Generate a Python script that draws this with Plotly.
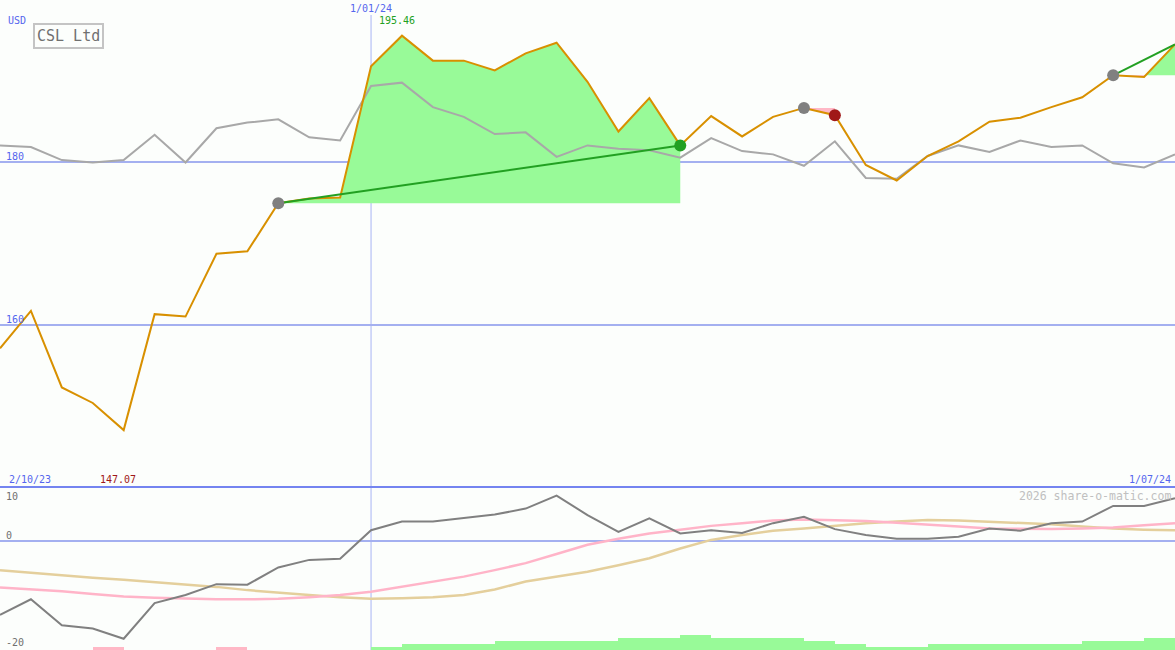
import plotly.graph_objects as go

# ---------------- data ----------------
n_points = 39
idx = list(range(n_points))
price = [157.1, 161.7, 152.3, 150.4, 147.07, 161.3, 161.0, 168.7, 169.0, 174.9,
         175.5, 175.6, 191.7, 195.46, 192.4, 192.4, 191.2, 193.3, 194.6, 189.8,
         183.7, 187.8, 182.0, 185.6, 183.1, 185.5, 186.6, 185.7, 179.6, 177.7,
         180.7, 182.5, 184.9, 185.4, 186.7, 187.9, 190.6, 190.4, 194.4]
index_line = [182.0, 181.8, 180.2, 179.9, 180.2, 183.3, 179.9, 184.1, 184.8, 185.2,
              183.0, 182.6, 189.3, 189.7, 186.7, 185.5, 183.4, 183.6, 180.6, 182.0,
              181.6, 181.4, 180.5, 182.9, 181.3, 180.9, 179.5, 182.5, 178.0, 177.9,
              180.7, 182.0, 181.2, 182.6, 181.8, 182.0, 179.8, 179.3, 180.9]
momentum = [-13.7, -10.8, -15.6, -16.2, -18.1, -11.5, -10.0, -8.0, -8.1, -4.9,
            -3.5, -3.3, 2.0, 3.6, 3.6, 4.2, 4.9, 6.0, 8.4, 4.8,
            1.7, 4.2, 1.4, 2.0, 1.5, 3.3, 4.5, 2.2, 1.1, 0.4,
            0.4, 0.8, 2.3, 1.9, 3.3, 3.6, 6.5, 6.5, 7.9]
ma_fast = [-8.6, -8.9, -9.3, -9.8, -10.3, -10.5, -10.7, -10.8, -10.8, -10.7,
           -10.4, -10.0, -9.4, -8.5, -7.6, -6.6, -5.4, -4.1, -2.4, -0.7,
           0.4, 1.4, 2.1, 2.8, 3.3, 3.8, 4.0, 3.9, 3.7, 3.4,
           3.1, 2.7, 2.3, 2.2, 2.2, 2.3, 2.5, 2.9, 3.3]
ma_slow = [-5.4, -5.9, -6.3, -6.8, -7.2, -7.6, -8.0, -8.5, -9.1, -9.6,
           -10.0, -10.4, -10.7, -10.6, -10.4, -10.0, -9.0, -7.5, -6.6, -5.7,
           -4.5, -3.2, -1.4, 0.2, 1.1, 1.9, 2.3, 2.8, 3.3, 3.6,
           3.9, 3.8, 3.6, 3.4, 3.1, 2.7, 2.3, 2.1, 2.0]
bar_level = [0, 0, 0, -1, 0, 0, 0, -1, 0, 0, 0, 0, 1, 2, 2, 2, 3, 3, 3, 3,
             4, 4, 5, 4, 4, 4, 3, 2, 1, 1, 2, 2, 2, 2, 2, 3, 3, 4, 0]
trade_entry = [9, 26, 36]
trade_exit = [22, 27, 38]
trade_closed = [True, True, False]
trade_win = [True, False, True]

title = "CSL Ltd"
currency = "USD"
date_start, date_mid, date_end = "2/10/23", "1/01/24", "1/07/24"
mid_index = 12
credit = "2026 share-o-matic.com"
ytick_main = [160, 180]

# ---------------- style ----------------
W, H = 1175, 650
SPLIT = 487
BG = "#fcfefc"
BLUE_TXT = "#5566ee"
GRID = "#a4b0f0"
FONT = "DejaVu Sans Mono"
GREEN_FILL = "#98fa98"
PINK_FILL = "#ffb8c6"
LEVEL_UNIT = 3 / 5.4
LOW_MIN = -20.19


def py(y):
    return 1 - y / H


fig = go.Figure()

# trade fills
for e, x_end in zip(trade_entry, trade_exit):
    b = price[e]
    xs, up, dn = [], [], []
    for k in range(e, x_end + 1):
        if k > e:
            p0, p1 = price[k - 1], price[k]
            if (p0 - b) * (p1 - b) < 0:
                t = (b - p0) / (p1 - p0)
                xs.append(k - 1 + t)
                up.append(b)
                dn.append(b)
        xs.append(k)
        up.append(max(price[k], b))
        dn.append(min(price[k], b))
    for ys, col in ((up, GREEN_FILL), (dn, PINK_FILL)):
        fig.add_trace(go.Scatter(
            x=xs + [xs[-1], xs[0]], y=ys + [b, b], fill="toself",
            fillcolor=col, line=dict(width=0), mode="lines",
            hoverinfo="skip", xaxis="x", yaxis="y"))

# comparison line
fig.add_trace(go.Scatter(x=idx, y=index_line, mode="lines",
                         line=dict(color="#a8a8a8", width=2),
                         xaxis="x", yaxis="y"))
# price
fig.add_trace(go.Scatter(x=idx, y=price, mode="lines",
                         line=dict(color="#d89000", width=2),
                         xaxis="x", yaxis="y"))
# trend lines for winning trades
for e, x_end, win in zip(trade_entry, trade_exit, trade_win):
    if win:
        fig.add_trace(go.Scatter(x=[e, x_end], y=[price[e], price[x_end]],
                                 mode="lines",
                                 line=dict(color="#22a022", width=2),
                                 xaxis="x", yaxis="y"))
# markers
fig.add_trace(go.Scatter(x=trade_entry, y=[price[e] for e in trade_entry],
                         mode="markers",
                         marker=dict(color="#808080", size=12),
                         xaxis="x", yaxis="y"))
ex_x = [x for x, c in zip(trade_exit, trade_closed) if c]
ex_c = ["#22a022" if w else "#a01818"
        for w, c in zip(trade_win, trade_closed) if c]
fig.add_trace(go.Scatter(x=ex_x, y=[price[x] for x in ex_x], mode="markers",
                         marker=dict(color=ex_c, size=12),
                         xaxis="x", yaxis="y"))

# lower panel bars
bx = [i + 0.5 for i, lv in enumerate(bar_level) if lv != 0]
by = [abs(lv) * LEVEL_UNIT for lv in bar_level if lv != 0]
bc = [GREEN_FILL if lv > 0 else PINK_FILL for lv in bar_level if lv != 0]
fig.add_trace(go.Bar(x=bx, y=by, base=LOW_MIN, width=1,
                     marker=dict(color=bc, line=dict(width=0)),
                     xaxis="x2", yaxis="y2"))
fig.add_trace(go.Scatter(x=idx, y=ma_slow, mode="lines",
                         line=dict(color="#e4cf9c", width=2.5),
                         xaxis="x2", yaxis="y2"))
fig.add_trace(go.Scatter(x=idx, y=ma_fast, mode="lines",
                         line=dict(color="#ffb4c8", width=2.5),
                         xaxis="x2", yaxis="y2"))
fig.add_trace(go.Scatter(x=idx, y=momentum, mode="lines",
                         line=dict(color="#808080", width=2),
                         xaxis="x2", yaxis="y2"))

split_p = (H - SPLIT) / H
axis_common = dict(range=[0, n_points - 1], showticklabels=False, zeroline=False,
                   showgrid=False, fixedrange=True)
fig.update_layout(
    width=W, height=H, margin=dict(l=0, r=0, t=0, b=0),
    paper_bgcolor=BG, plot_bgcolor=BG, showlegend=False, bargap=0,
    hovermode=False,
    xaxis=dict(**axis_common, domain=[0, 1], anchor="y"),
    xaxis2=dict(**axis_common, domain=[0, 1], anchor="y2"),
    yaxis=dict(domain=[split_p, 1], range=[140.09, 199.84], tickvals=ytick_main,
               showgrid=True, gridcolor=GRID, gridwidth=2, showticklabels=False,
               zeroline=False, fixedrange=True),
    yaxis2=dict(domain=[0, split_p], range=[LOW_MIN, 10], tickvals=[0],
                showgrid=True, gridcolor=GRID, gridwidth=2, showticklabels=False,
                zeroline=False, fixedrange=True),
    shapes=[
        dict(type="line", xref="x", yref="paper", x0=mid_index, x1=mid_index,
             y0=0, y1=py(15), line=dict(color="#a8b4f4", width=1), layer="below"),
        dict(type="line", xref="paper", yref="paper", x0=0, x1=1,
             y0=split_p, y1=split_p, line=dict(color="#7484f0", width=2)),
    ],
)


def ann(text, x, y, color, size=10, xanchor="left", xref="paper", **kw):
    fig.add_annotation(text=text, x=x, y=y, xref=xref, yref=kw.pop("yref", "paper"),
                       xanchor=xanchor, yanchor=kw.pop("yanchor", "middle"),
                       showarrow=False, font=dict(family=FONT, size=size, color=color),
                       **kw)


ann(currency, 6 / W, py(20), BLUE_TXT)
ann(title, 68 / W, py(36), "#707070", size=15, xanchor="center",
    bordercolor="#c4c4c4", borderwidth=2, borderpad=2, bgcolor=BG)
ann(date_mid, mid_index, py(9), BLUE_TXT, xanchor="center", xref="x")
ann(f"{max(price):.2f}", 377 / W, py(21), "#22a022")
for v in ytick_main:
    ann(str(v), 4 / W, v, BLUE_TXT, yref="y", yanchor="bottom", yshift=-2)
ann(date_start, 7 / W, py(479), BLUE_TXT)
ann(f"{min(price):.2f}", 98 / W, py(479), "#a01818")
ann(date_end, 1173 / W, py(479), BLUE_TXT, xanchor="right")
ann("10", 4 / W, py(496), "#707070")
ann("0", 4 / W, py(535), "#707070")
ann("-20", 4 / W, py(642), "#707070")
ann(credit, 1173 / W, py(496), "#c0c0c0", size=11.5, xanchor="right")

fig.write_html(
    "out.html",
    config={"displayModeBar": False, "staticPlot": True},
    post_script="document.body.style.margin='0';document.body.style.overflow='hidden';",
)
